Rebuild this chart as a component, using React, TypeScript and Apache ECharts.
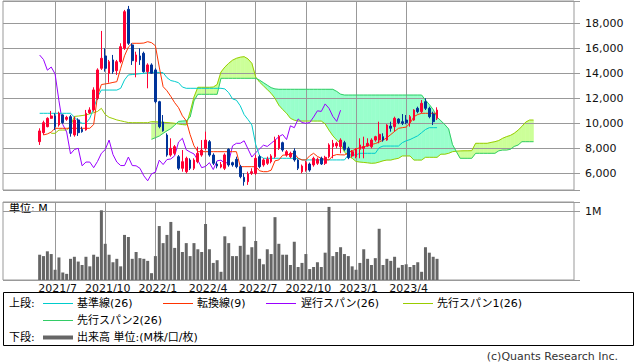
import React, { useEffect, useRef } from 'react';
import * as echarts from 'echarts';

// ---- axis layout data ----
const SLOT_COUNT = 148; // weekly slots on the x axis (incl. 25-week forward cloud & blank)
const FIRST_CANDLE_SLOT = 9;
const TICK_SLOTS = [13, 26, 39, 52, 65, 78, 91, 104];
const TICK_LABELS = ['2021/7', '2021/10', '2022/1', '2022/4', '2022/7', '2022/10', '2023/1', '2023/4'];

// ---- weekly OHLC (yen) ----
const opens = [8530, 9250, 9730, 10400, 10590, 9870, 10670, 10320, 10530, 9070,
  10270, 9520, 9470, 10850, 11070, 12000, 14400, 15390, 14000, 15070,
  14210, 14930, 16000, 19120, 16270, 14930, 15390, 15600, 14130, 14670,
  14270, 11730, 10100, 9060, 7460, 7600, 7330, 6400, 6130, 7060,
  6400, 6930, 7460, 8000, 8530, 7460, 6740, 6500, 6400, 7920,
  6850, 7120, 6530, 5680, 5330, 6000, 6000, 7330, 6670, 6800,
  6930, 7330, 8000, 8450, 7460, 7330, 7790, 7070, 6130, 6260,
  6740, 6670, 6800, 7200, 6800, 7330, 8130, 8190, 8130, 8450,
  8000, 7390, 7330, 7920, 8000, 8180, 8130, 8660, 8660, 8930,
  8660, 9780, 9730, 10340, 10130, 10260, 10130, 10260, 11200, 10930,
  11730, 11200, 10750, 10400];
const closes = [9390, 10050, 10400, 10590, 9730, 10800, 10050, 10480, 9200, 10270,
  9250, 9330, 10800, 11070, 12670, 14270, 15200, 14400, 14930, 14130,
  14930, 16130, 18930, 16400, 15010, 15470, 15070, 14130, 14670, 14000,
  11730, 9730, 9400, 7460, 8000, 8130, 6400, 6930, 7200, 6400,
  7060, 7600, 7860, 8660, 7460, 6800, 6580, 6700, 7470, 6670,
  6670, 6530, 5730, 5330, 5950, 6130, 7200, 6530, 7070, 7120,
  7390, 8670, 8930, 7870, 7730, 7600, 7070, 6400, 6580, 6860,
  6260, 7200, 7120, 6750, 7280, 8270, 8400, 8400, 8660, 7920,
  7250, 7730, 7920, 8270, 8130, 8400, 8660, 8930, 9120, 8660,
  9860, 9600, 10400, 10050, 10000, 10050, 10530, 11060, 10930, 11600,
  11200, 10530, 10130, 11060];
const highs = [9600, 10210, 10480, 10990, 10800, 10930, 10720, 10600, 10670, 10530,
  10400, 9730, 11070, 11280, 12880, 14400, 17390, 16000, 15070, 15470,
  15070, 16400, 19070, 19390, 16400, 15730, 16000, 15730, 14800, 14800,
  14400, 11800, 10660, 9200, 8800, 8260, 7460, 7860, 7330, 7200,
  7200, 8130, 8660, 9330, 8660, 7600, 6930, 6900, 7600, 8000,
  6930, 7330, 6670, 6000, 6130, 6400, 7470, 7470, 7200, 7330,
  7530, 8930, 9070, 8530, 7860, 7730, 8000, 7130, 6700, 7000,
  6860, 7330, 7260, 7330, 7400, 8400, 8670, 8530, 8800, 8600,
  8130, 7860, 8000, 8800, 8930, 8800, 8800, 9000, 10130, 9200,
  9930, 10130, 10530, 10400, 10740, 10660, 10660, 11130, 11330, 11860,
  12000, 11330, 10930, 11280];
const lows = [8270, 9070, 9680, 10350, 9470, 9730, 9950, 10200, 8930, 8930,
  8990, 9250, 9410, 10750, 10930, 11870, 14270, 14130, 13250, 13950,
  13870, 14800, 15870, 16270, 14670, 13680, 14670, 14050, 12800, 13950,
  11600, 9600, 9330, 7330, 7330, 7460, 6260, 6130, 6000, 6260,
  6260, 6800, 7330, 7860, 7330, 6660, 6400, 6400, 6260, 6530,
  6530, 6400, 5600, 5010, 5070, 5870, 5870, 6400, 6530, 6670,
  6800, 7200, 7870, 7730, 7330, 7200, 6930, 6260, 6000, 6130,
  6130, 6530, 6670, 6670, 6670, 7200, 7200, 8000, 7600, 7800,
  7130, 7260, 7200, 7200, 7200, 8130, 8000, 8530, 8400, 8530,
  8600, 9330, 9330, 9930, 9860, 9930, 9730, 10200, 10800, 10800,
  11060, 10400, 9860, 10260];

// ---- weekly volume (M) ----
const volumes = [0.37, 0.35, 0.42, 0.38, 0.15, 0.33, 0.11, 0.09, 0.31, 0.34,
  0.27, 0.22, 0.34, 0.2, 0.37, 0.34, 1.02, 0.53, 0.37, 0.26,
  0.31, 0.2, 0.66, 0.63, 0.31, 0.41, 0.32, 0.31, 0.28, 0.1,
  0.35, 0.79, 0.54, 0.66, 0.85, 0.47, 0.72, 0.41, 0.54, 0.35,
  0.54, 0.45, 0.41, 0.82, 0.45, 0.25, 0.29, 0.12, 0.64, 0.54,
  0.35, 0.35, 0.5, 0.78, 0.37, 0.48, 0.57, 0.31, 0.23, 0.45,
  0.38, 0.92, 0.53, 0.37, 0.37, 0.22, 0.56, 0.19, 0.25, 0.38,
  0.16, 0.19, 0.26, 0.19, 0.4, 1.07, 0.35, 0.41, 0.48, 0.38,
  0.35, 0.2, 0.15, 0.25, 0.45, 0.31, 0.22, 0.32, 0.75, 0.22,
  0.31, 0.28, 0.34, 0.18, 0.22, 0.23, 0.19, 0.22, 0.26, 0.12,
  0.48, 0.4, 0.34, 0.31];

// ---- Ichimoku lines (start slot + values) ----
const TENKAN_START = 10;
const tenkan = [9070, 9150, 9300, 9600, 9600, 9600, 9600, 9600, 9600, 9600,
  9600, 9600, 9600, 9900, 12200, 13100, 13150, 13200, 13270, 13330,
  14400, 15400, 16100, 16400, 16400, 16400, 16420, 16530, 16450, 16200,
  14500, 12930, 12600, 12150, 11650, 11250, 10600, 10200, 9100, 8200,
  7730, 7730, 7730, 7730, 7730, 7730, 7730, 7730, 7730, 7730,
  7730, 6530, 6530, 6530, 6530, 6530, 6200, 6130, 6130, 6250,
  7000, 7070, 7450, 7470, 7530, 7600, 7200, 7070, 7070, 7400,
  7600, 7350, 7200, 7100, 7070, 7400, 7500, 7480, 7470, 7650,
  7800, 7950, 8050, 8130, 8200, 8300, 8380, 8500, 8650, 8850,
  9100, 9350, 9600, 9650, 9700, 10000, 10530, 10700, 10800, 10800,
  10800, 10800, 10800];
const KIJUN_START = 9;
const kijun = [10800, 10800, 10800, 10800, 10800, 10800, 10800, 10800, 10800, 10500,
  10200, 10000, 10000, 10400, 11200, 12100, 12660, 12660, 12660, 12660,
  12660, 12800, 13470, 13870, 13900, 13930, 13970, 14000, 14040, 14080,
  14080, 14070, 14050, 13650, 13420, 13350, 13250, 12900, 12800, 12800,
  12800, 12800, 12800, 12800, 12800, 12800, 12800, 12800, 12750, 12450,
  11950, 11850, 11400, 10700, 10300, 9870, 8300, 7400, 7200, 7200,
  7200, 7200, 7200, 7200, 7200, 7200, 7200, 7200, 7070, 7070,
  7070, 7070, 7070, 7070, 7070, 7070, 7070, 7070, 7070, 7070,
  7470, 7470, 7470, 7600, 7600, 7600, 7600, 7600, 8050, 8180,
  8180, 8180, 8180, 8180, 8450, 8600, 8700, 8850, 9000, 9250,
  9500, 9650, 9650, 9650];
const CHIKOU_START = 9;
const chikou = [15460, 15100, 14250, 14500, 13950, 11800, 9900, 9300, 7550, 7900,
  8000, 6600, 6900, 6900, 6450, 6950, 7600, 7900, 8660, 7500,
  6900, 6620, 6620, 7300, 6620, 6600, 6400, 5800, 5400, 5950,
  6100, 7050, 6700, 7100, 7150, 7400, 8500, 8800, 7880, 7700,
  7550, 7050, 6450, 6550, 6850, 6300, 7000, 7050, 6800, 6900,
  8200, 8400, 8400, 8600, 7950, 7300, 7650, 7950, 8250, 8150,
  8400, 8650, 8930, 9100, 8700, 9800, 9650, 10350, 10060, 10000,
  10060, 10500, 11000, 10950, 11550, 11200, 10550, 10150, 11050];
const SPAN1_START = 12;
const span1 = [9200, 9200, 9460, 9460, 9460, 9780, 10550, 10580, 10620, 10670,
  10760, 10850, 10950, 11200, 10700, 10480, 10380, 10270, 10200, 10130,
  10060, 10050, 10050, 10050, 10050, 10050, 10130, 10120, 10100, 10080,
  10060, 10030, 10000, 9950, 9900, 9870, 10900, 12100, 12880, 12880,
  12880, 12880, 12900, 13100, 14100, 14500, 14800, 15050, 15200, 15290,
  15330, 15150, 14800, 13700, 13300, 13000, 12700, 12400, 12000, 11450,
  11100, 10800, 10400, 10250, 10180, 10180, 10180, 10180, 10180, 10180,
  10180, 9950, 9450, 9000, 8660, 8400, 7700, 7400, 7200, 6950,
  6900, 6870, 6840, 6800, 6820, 6900, 7000, 7060, 7060, 7140,
  7200, 7390, 7390, 7390, 7060, 7060, 7060, 7280, 7280, 7280,
  7280, 7530, 7530, 7600, 7730, 7770, 7790, 7800, 7800, 7810,
  8400, 8400, 8400, 8400, 8470, 8530, 8620, 8800, 8930, 9030,
  9200, 9450, 9750, 10100, 10260, 10260];
const SPAN2_START = 38;
const span2 = [8720, 8850, 8980, 9200, 9400, 9580, 9850, 10150, 10180, 10200,
  10500, 11800, 12320, 12320, 12320, 12320, 12320, 12320, 13600, 13600,
  13600, 13600, 13600, 13600, 13600, 13600, 13600, 13600, 13450, 13250,
  13050, 12850, 12750, 12720, 12720, 12720, 12720, 12720, 12720, 12720,
  12720, 12720, 12720, 12720, 12720, 12720, 12720, 12720, 12550, 12330,
  12260, 12260, 12260, 12260, 12260, 12260, 12260, 12260, 12260, 12260,
  12260, 12260, 12260, 12260, 12260, 12260, 12260, 12260, 12260, 12260,
  12260, 11860, 11500, 11100, 10500, 10200, 9900, 9550, 8300, 7740,
  7200, 7200, 7200, 7200, 7600, 7600, 7600, 7600, 7600, 7600,
  7800, 7860, 7860, 7920, 8150, 8260, 8530, 8530, 8530, 8530];

const C = {
  up: '#ff0033', down: '#003399',
  tenkan: '#ff3300', kijun: '#00cccc', chikou: '#9900ff',
  span1: '#99cc00', span2: '#33cc66',
  cloudUp: '#ccff99', cloudDown: '#99ffcc',
  grid: '#999999', vol: '#666666', text: '#111111',
};
const FONT = '"DejaVu Sans", "Noto Sans CJK JP", sans-serif';

function valAt(start: number, arr: number[], s: number): number | null {
  const i = s - start;
  return i >= 0 && i < arr.length ? arr[i] : null;
}
const pairs = (start: number, arr: number[]) => arr.map((v, i) => [start + i, v]);

function buildOption(): any {
  const cats = Array.from({ length: SLOT_COUNT }, (_, s) => {
    const i = TICK_SLOTS.indexOf(s);
    return i >= 0 ? TICK_LABELS[i] : '';
  });
  const halfCats = Array.from({ length: SLOT_COUNT * 2 + 1 }, (_, j) => 'h' + j);
  const gridJ = new Set(TICK_SLOTS.map((s) => 2 * s + 1));

  const candleData = opens.map((o, k) => [FIRST_CANDLE_SLOT + k, o, closes[k], lows[k], highs[k]]);
  const volData = volumes.map((v, k) => [FIRST_CANDLE_SLOT + k, v]);

  const segs: number[][] = [];
  for (let s = SPAN2_START; s < SPAN2_START + span2.length - 1; s++) {
    const a0 = valAt(SPAN1_START, span1, s);
    const a1 = valAt(SPAN1_START, span1, s + 1);
    if (a0 != null && a1 != null) segs.push([s, a0]);
  }

  const lineSeries = (name: string, start: number, arr: number[], color: string) => ({
    type: 'line', name, xAxisIndex: 0, yAxisIndex: 0, data: pairs(start, arr),
    symbol: 'none', silent: true, z: 3,
    lineStyle: { color, width: 1 },
  });

  const hiddenCat = (gridIndex: number, data: string[], boundaryGap: boolean, extra: any = {}) => ({
    type: 'category', gridIndex, data, boundaryGap,
    axisLine: { show: false }, axisTick: { show: false },
    axisLabel: { show: false }, splitLine: { show: false },
    ...extra,
  });

  const gridSplit = {
    splitLine: {
      show: true,
      interval: (idx: number) => gridJ.has(idx),
      lineStyle: { color: C.grid, width: 1 },
    },
  };

  const txt = (x: number, y: number, text: string, extra: any = {}) => ({
    type: 'text', x, y, silent: true,
    style: { text, fill: '#000', fontSize: 11, fontFamily: FONT, verticalAlign: 'middle', align: 'left', ...extra },
  });
  const seg = (x1: number, x2: number, y: number, color: string, w = 1) => ({
    type: 'line', silent: true,
    shape: { x1, y1: y, x2, y2: y },
    style: { stroke: color, lineWidth: w },
  });

  const r1 = 303.5, r2 = 320.5, r3 = 337.5;

  return {
    animation: false,
    backgroundColor: '#ffffff',
    grid: [
      { left: 3, top: 1, width: 571, height: 189, show: true, borderColor: C.grid, borderWidth: 1 },
      { left: 3, top: 202, width: 571, height: 78, show: true, borderColor: C.grid, borderWidth: 1 },
    ],
    xAxis: [
      hiddenCat(0, cats, true),
      hiddenCat(1, cats, true, {
        axisLabel: {
          show: true, interval: 0, color: C.text, fontSize: 11, fontFamily: FONT,
          margin: 3, padding: [0, 0, 0, 5],
        },
      }),
      hiddenCat(0, halfCats, false, gridSplit),
      hiddenCat(1, halfCats, false, gridSplit),
    ],
    yAxis: [
      {
        type: 'value', gridIndex: 0, position: 'right', min: 4664, max: 19784, splitNumber: 7,
        axisLine: { show: false },
        axisTick: { show: true, length: 6, lineStyle: { color: C.grid } },
        axisLabel: {
          margin: 11, color: C.text, fontSize: 11, fontFamily: FONT,
          formatter: (v: number) => (Math.abs(v % 2000) < 1e-6 ? v.toLocaleString('en-US') : ''),
        },
        splitLine: { show: true, lineStyle: { color: C.grid, width: 1 } },
      },
      {
        type: 'value', gridIndex: 1, position: 'right', min: 0, max: 1.142, interval: 1,
        axisLine: { show: false },
        axisTick: { show: true, length: 6, lineStyle: { color: C.grid } },
        axisLabel: {
          margin: 11, color: C.text, fontSize: 11, fontFamily: FONT,
          formatter: (v: number) => (v === 1 ? '1M' : ''),
        },
        splitLine: { show: true, lineStyle: { color: C.grid, width: 1 } },
      },
    ],
    series: [
      {
        type: 'custom', name: 'cloud', xAxisIndex: 0, yAxisIndex: 0, z: -1, silent: true,
        data: segs, encode: { x: 0, y: 1 },
        renderItem: (params: any, api: any) => {
          const s = api.value(0);
          const a0 = valAt(SPAN1_START, span1, s) as number;
          const a1 = valAt(SPAN1_START, span1, s + 1) as number;
          const b0 = valAt(SPAN2_START, span2, s) as number;
          const b1 = valAt(SPAN2_START, span2, s + 1) as number;
          const pa0 = api.coord([s, a0]);
          const pa1 = api.coord([s + 1, a1]);
          const pb0 = api.coord([s, b0]);
          const pb1 = api.coord([s + 1, b1]);
          const d0 = a0 - b0, d1 = a1 - b1;
          const poly = (pts: number[][], c: string) => ({
            type: 'polygon', shape: { points: pts },
            style: { fill: c, stroke: c, lineWidth: 0.6 },
          });
          if (d0 * d1 >= 0) {
            return poly([pa0, pa1, pb1, pb0], d0 + d1 >= 0 ? C.cloudUp : C.cloudDown);
          }
          const t = d0 / (d0 - d1);
          const px = [pa0[0] + t * (pa1[0] - pa0[0]), pa0[1] + t * (pa1[1] - pa0[1])];
          return {
            type: 'group',
            children: [
              poly([pa0, px, pb0], d0 > 0 ? C.cloudUp : C.cloudDown),
              poly([px, pa1, pb1], d1 > 0 ? C.cloudUp : C.cloudDown),
            ],
          };
        },
      },
      lineSeries('先行スパン1', SPAN1_START, span1, C.span1),
      lineSeries('先行スパン2', SPAN2_START, span2, C.span2),
      lineSeries('遅行スパン', CHIKOU_START, chikou, C.chikou),
      lineSeries('基準線', KIJUN_START, kijun, C.kijun),
      lineSeries('転換線', TENKAN_START, tenkan, C.tenkan),
      {
        type: 'candlestick', name: 'price', xAxisIndex: 0, yAxisIndex: 0, z: 5, silent: true,
        data: candleData, encode: { x: 0, y: [1, 2, 3, 4] },
        barWidth: 2.2,
        itemStyle: {
          color: C.up, color0: C.down, borderColor: C.up, borderColor0: C.down, borderWidth: 1,
        },
      },
      {
        type: 'bar', name: 'volume', xAxisIndex: 1, yAxisIndex: 1, silent: true,
        data: volData, barWidth: 3, itemStyle: { color: C.vol },
      },
    ],
    graphic: {
      elements: [
        txt(9, 208, '単位: M'),
        {
          type: 'rect', silent: true,
          shape: { x: 3.5, y: 292.5, width: 630, height: 53 },
          style: { fill: 'none', stroke: '#000', lineWidth: 1 },
        },
        txt(9, r1, '上段:'),
        seg(43, 73, r1, C.kijun), txt(77, r1, '基準線(26)'),
        seg(163, 193, r1, C.tenkan), txt(197, r1, '転換線(9)'),
        seg(266, 296, r1, C.chikou), txt(301, r1, '遅行スパン(26)'),
        seg(403, 433, r1, C.span1), txt(437, r1, '先行スパン1(26)'),
        seg(43, 73, r2, C.span2), txt(77, r2, '先行スパン2(26)'),
        txt(9, r3, '下段:'),
        seg(43, 73, r3, C.vol, 4), txt(77, r3, '出来高 単位:(M株/口/枚)'),
        txt(618, 356, '(c)Quants Research Inc.', { align: 'right', fill: '#333' }),
      ],
    },
  };
}

export default function App() {
  const ref = useRef<HTMLDivElement>(null);
  useEffect(() => {
    if (!ref.current) return;
    const chart = echarts.init(ref.current, undefined, { renderer: 'svg' });
    chart.setOption(buildOption());
    return () => chart.dispose();
  }, []);
  return (
    <div
      ref={ref}
      style={{ position: 'absolute', left: 0, top: 0, width: 638, height: 362, background: '#fff' }}
    />
  );
}
